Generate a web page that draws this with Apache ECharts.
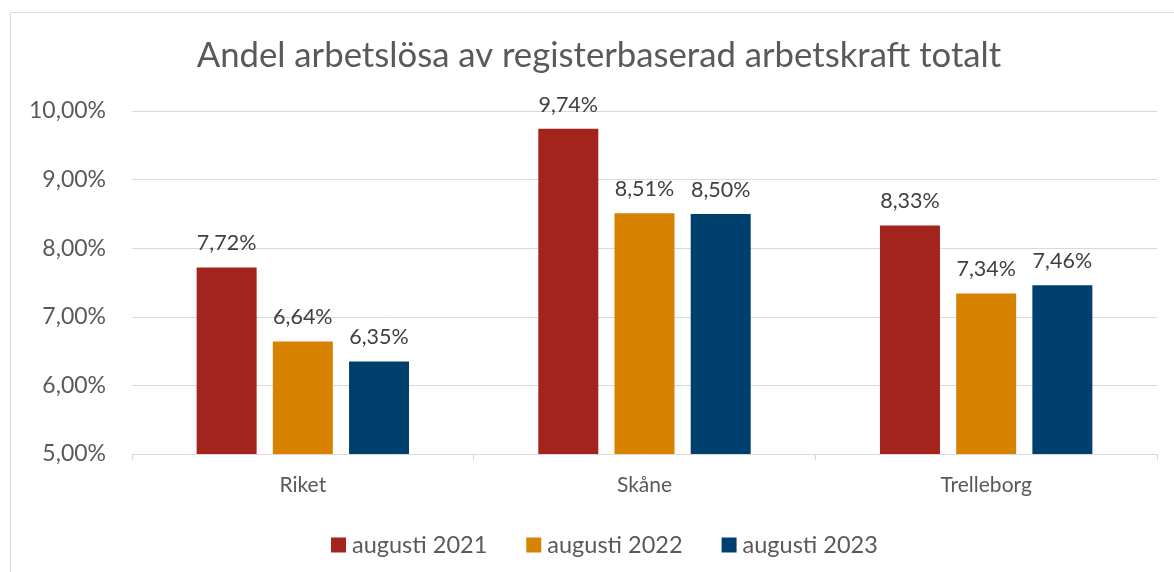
<!DOCTYPE html>
<html>
<head>
<meta charset="utf-8">
<script src="https://cdn.jsdelivr.net/npm/echarts@6/dist/echarts.min.js"></script>
<style>
  html, body { margin: 0; padding: 0; background: #fff; }
  #chart { width: 1174px; height: 572px; }
</style>
</head>
<body>
<div id="chart"></div>
<script>
const categories = ['Riket', 'Skåne', 'Trelleborg']
const seriesNames = ['augusti 2021', 'augusti 2022', 'augusti 2023']
const aug2021 = [7.72, 9.74, 8.33]
const aug2022 = [6.64, 8.51, 7.34]
const aug2023 = [6.35, 8.50, 7.46]
const colors = ['#A3241D', '#D78300', '#00406F']

const fontFamily = 'Lato, "Open Sans", sans-serif'
const fmt = (v) => v.toFixed(2).replace('.', ',') + '%'

const chart = echarts.init(document.getElementById('chart'))

const makeSeries = (name, data, idx) => ({
  name,
  type: 'bar',
  data,
  barWidth: 60,
  barGap: '27%',
  itemStyle: { color: colors[idx] },
  label: {
    show: true,
    position: 'top',
    distance: 13,
    formatter: (p) => fmt(p.value),
    color: '#404040',
    fontSize: 21.5,
    fontFamily,
  },
})

chart.setOption({
  animation: false,
  title: {
    text: 'Andel arbetslösa av registerbaserad arbetskraft totalt',
    left: 594,
    textAlign: 'center',
    top: 33,
    textStyle: {
      color: '#595959',
      fontSize: 34.7,
      fontWeight: 'normal',
      fontFamily,
    },
  },
  graphic: [
    {
      type: 'rect',
      shape: { x: 10.5, y: 12.5, width: 1200, height: 600 },
      style: { fill: 'none', stroke: '#D9D9D9', lineWidth: 1 },
      silent: true,
    },
  ],
  legend: {
    left: 326,
    top: 528,
    itemWidth: 15,
    itemHeight: 15,
    itemGap: 39,
    icon: 'rect',
    textStyle: { color: '#595959', fontSize: 23.5, fontFamily, padding: [0, 0, 0, 1] },
    data: seriesNames,
  },
  grid: {
    left: 132,
    right: 17,
    top: 111,
    bottom: 118,
    containLabel: false,
  },
  xAxis: {
    type: 'category',
    data: categories,
    axisLine: { lineStyle: { color: '#D9D9D9', width: 1 } },
    axisTick: { show: true, length: 6, lineStyle: { color: '#D9D9D9' } },
    axisLabel: { color: '#595959', fontSize: 21, fontFamily, margin: 21 },
  },
  yAxis: {
    type: 'value',
    min: 5,
    max: 10,
    interval: 1,
    axisLine: { show: false },
    axisTick: { show: false },
    axisLabel: {
      formatter: (v) => fmt(v),
      color: '#595959',
      fontSize: 23,
      fontFamily,
      margin: 26,
    },
    splitLine: { lineStyle: { color: '#D9D9D9', width: 1 } },
  },
  series: [
    makeSeries(seriesNames[0], aug2021, 0),
    makeSeries(seriesNames[1], aug2022, 1),
    makeSeries(seriesNames[2], aug2023, 2),
  ],
})
</script>
</body>
</html>
